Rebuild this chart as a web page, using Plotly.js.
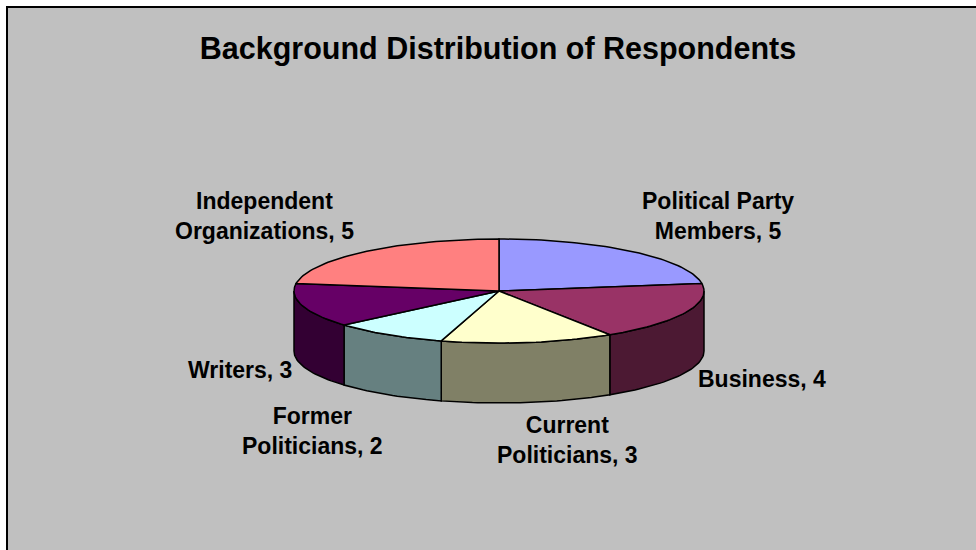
<!DOCTYPE html>
<html>
<head>
<meta charset="utf-8">
<script src="https://cdn.plot.ly/plotly-3.0.1.min.js"></script>
<style>html,body{margin:0;padding:0;background:#fff;}#chart{width:976px;height:550px;}</style>
</head>
<body>
<div id="chart"></div>
<script>
// ---- data ----
const categories = ["Political Party Members", "Business", "Current Politicians", "Former Politicians", "Writers", "Independent Organizations"];
const labelLines = ["Political Party<br>Members", "Business", "Current<br>Politicians", "Former<br>Politicians", "Writers", "Independent<br>Organizations"];
const values = [5, 4, 3, 2, 3, 5];

// ---- style ----
const topColors  = ["#9999FF", "#993366", "#FFFFCC", "#CCFFFF", "#660066", "#FF8080"];
const sideColors = ["#4D4D80", "#4C1933", "#808066", "#668080", "#330033", "#804040"];
const labelPos = [[718, 216], [762, 379], [567, 440], [312, 431], [240, 370], [264, 216]];
const geo = {cx: 499, cy: 291, rx: 205, ry: 52, depth: 60};
const fontFam = "Liberation Sans, Arial, sans-serif";

function pt(deg, dy) {
  const t = deg * Math.PI / 180;
  return [geo.cx + geo.rx * Math.sin(t), geo.cy - geo.ry * Math.cos(t) + (dy || 0)];
}
function arc(a0, a1, dy) {
  const n = Math.max(8, Math.ceil(Math.abs(a1 - a0) / 1.5));
  const out = [];
  for (let i = 0; i <= n; i++) out.push(pt(a0 + (a1 - a0) * i / n, dy));
  return out;
}

const total = values.reduce((a, b) => a + b, 0);
const sides = [], tops = [];
let cum = 0;
values.forEach((v, i) => {
  const a0 = cum / total * 360;
  const a1 = (cum + v) / total * 360;
  cum += v;
  // side wall (visible only for front half: 90..270 deg)
  const s0 = Math.max(a0, 90), s1 = Math.min(a1, 270);
  if (s1 > s0) {
    const up = arc(s0, s1, 0);
    const down = arc(s0, s1, geo.depth).reverse();
    const pts = up.concat(down);
    pts.push(up[0]);
    sides.push({
      type: "scatter", mode: "lines", fill: "toself",
      x: pts.map(p => p[0]), y: pts.map(p => p[1]),
      fillcolor: sideColors[i], line: {color: "#000", width: 1.5},
      hoverinfo: "skip", showlegend: false
    });
  }
  // top face
  const a = arc(a0, a1, 0);
  const pts = [[geo.cx, geo.cy]].concat(a);
  pts.push([geo.cx, geo.cy]);
  tops.push({
    type: "scatter", mode: "lines", fill: "toself",
    x: pts.map(p => p[0]), y: pts.map(p => p[1]),
    fillcolor: topColors[i], line: {color: "#000", width: 1.5},
    name: categories[i], hoverinfo: "name", showlegend: false
  });
});

const annotations = values.map((v, i) => ({
  x: labelPos[i][0], y: labelPos[i][1], xref: "x", yref: "y",
  text: labelLines[i] + ", " + v, showarrow: false,
  xanchor: "center", yanchor: "middle", align: "center",
  font: {family: fontFam, size: 23, color: "#000", weight: "bold"}
}));

const layout = {
  width: 976, height: 550,
  margin: {l: 8, r: 0, t: 8, b: 0, pad: 0},
  paper_bgcolor: "#FFFFFF",
  plot_bgcolor: "#C0C0C0",
  title: {
    text: "Background Distribution of Respondents",
    font: {family: fontFam, size: 30.5, color: "#000", weight: "bold"},
    x: 498 / 976, xref: "container", xanchor: "center",
    y: 1 - 48 / 550, yref: "container", yanchor: "middle"
  },
  xaxis: {range: [8, 976], autorange: false, showgrid: false, zeroline: false,
          showticklabels: false, ticks: "", showline: true, side: "top",
          linecolor: "#000", linewidth: 2, fixedrange: true},
  yaxis: {range: [550, 8], autorange: false, showgrid: false, zeroline: false,
          showticklabels: false, ticks: "", showline: true, side: "left",
          linecolor: "#000", linewidth: 2, fixedrange: true},
  annotations: annotations,
  showlegend: false
};

Plotly.newPlot("chart", sides.concat(tops), layout, {displayModeBar: false, staticPlot: true});
</script>
</body>
</html>
